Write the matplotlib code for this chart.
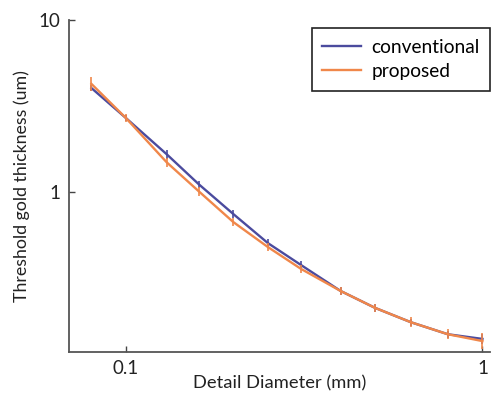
import matplotlib
matplotlib.use("Agg")
import matplotlib.pyplot as plt
import numpy as np
from matplotlib.ticker import FixedLocator, FixedFormatter, NullLocator

diameter = [0.08, 0.10, 0.13, 0.16, 0.20, 0.25, 0.31, 0.40, 0.50, 0.63, 0.80, 1.00]
conventional = [4.02, 2.69, 1.66, 1.11, 0.745, 0.505, 0.376, 0.266, 0.212, 0.175, 0.149, 0.140]
proposed = [4.25, 2.69, 1.49, 1.01, 0.669, 0.479, 0.357, 0.266, 0.212, 0.175, 0.149, 0.136]
conv_err = [0.04, 0.04, 0.06, 0.05, 0.05, 0.05, 0.05, 0.05, 0.06, 0.05, 0.05, 0.07]
prop_err = [0.10, 0.06, 0.06, 0.06, 0.06, 0.06, 0.05, 0.06, 0.06, 0.07, 0.07, 0.11]

xticks = [0.1, 1]
xtick_labels = ["0.1", "1"]
yticks = [1, 10]
ytick_labels = ["1", "10"]

plt.rcParams['font.family'] = ['Lato', 'DejaVu Sans']

fig = plt.figure(figsize=(4.91, 3.94), dpi=100)
ax = fig.add_axes([69/491, 1-352/394, (490-69)/491, (352-20)/394])

blue = '#4b4b9e'
orange = '#f0874a'

def err(y, e):
    y = np.array(y); e = np.array(e)
    return [y - y/(1+e), y*e]

ax.errorbar(diameter, conventional, yerr=err(conventional, conv_err), fmt='none',
            ecolor=blue, elinewidth=1.2, capsize=0)
ax.plot(diameter, conventional, color=blue, lw=1.7, label='conventional')
ax.errorbar(diameter, proposed, yerr=err(proposed, prop_err), fmt='none',
            ecolor=orange, elinewidth=1.2, capsize=0)
ax.plot(diameter, proposed, color=orange, lw=1.7, label='proposed')

ax.set_xscale('log')
ax.set_yscale('log')
ax.set_xlim(0.0692, 1.05)
ax.set_ylim(0.1175, 10)

ax.xaxis.set_major_locator(FixedLocator(xticks))
ax.xaxis.set_major_formatter(FixedFormatter(xtick_labels))
ax.yaxis.set_major_locator(FixedLocator(yticks))
ax.yaxis.set_major_formatter(FixedFormatter(ytick_labels))
ax.xaxis.set_minor_locator(NullLocator())
ax.yaxis.set_minor_locator(NullLocator())
ax.tick_params(direction='in', length=4, width=1, colors='#444444', labelsize=13.5,
               labelcolor='#222222', pad=6)

for s in ['top', 'right']:
    ax.spines[s].set_visible(False)
for s in ['left', 'bottom']:
    ax.spines[s].set_color('#555555')
    ax.spines[s].set_linewidth(1.3)

ax.set_xlabel('Detail Diameter (mm)', fontsize=13.2, color='#222222', labelpad=-1.5)
ax.set_ylabel('Threshold gold thickness (um)', fontsize=12.8, color='#222222', labelpad=6)

leg = ax.legend(loc='upper right', bbox_to_anchor=(1.0, 0.976), borderaxespad=0,
                fontsize=13.8, handlelength=2.0, frameon=True, fancybox=False,
                framealpha=1, edgecolor='#222222', borderpad=0.55, labelspacing=0.4,
                handletextpad=0.55)
leg.get_frame().set_linewidth(1.2)

fig.savefig('out.png', dpi=100)
